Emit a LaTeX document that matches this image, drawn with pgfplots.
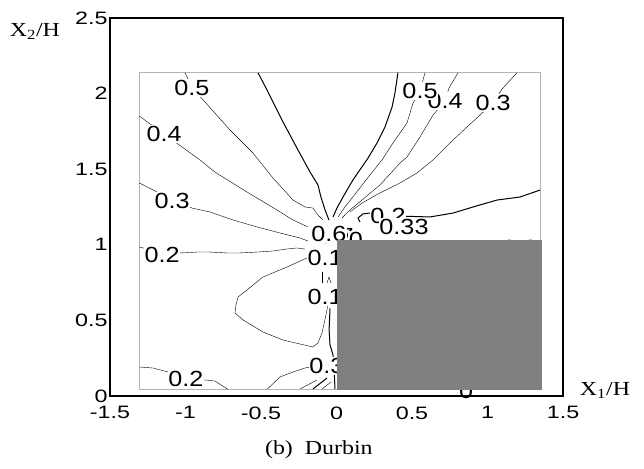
\documentclass[border=0pt]{standalone}
\usepackage{fontspec}
\setmainfont{Liberation Serif}[FakeStretch=1.2]
\newfontfamily\tickfont[FakeStretch=1.3]{Liberation Sans}
\newfontfamily\labfont[FakeStretch=1.15]{Liberation Sans}
\usepackage{pgfplots}
\pgfplotsset{compat=1.18}
\definecolor{blockgray}{HTML}{808080}
\definecolor{framegray}{HTML}{B4B4B4}
\tikzset{clab/.style={font=\labfont\fontsize{22}{22}\selectfont, fill=white, inner sep=0.8bp, text=black}}
\begin{document}
\begin{tikzpicture}[x=1bp,y=1bp]
\path[use as bounding box] (0,0) rectangle (644,469);
\begin{axis}[at={(110bp,73bp)}, anchor=south west, scale only axis,
  width=453bp, height=378bp,
  xmin=-1.5, xmax=1.5, ymin=0, ymax=2.5,
  axis line style={line width=1.2pt},
  xtick={-1.5,-1,-0.5,0,0.5,1,1.5}, xticklabels={-1.5,-1,-0.5,0,0.5,1,1.5},
  ytick={0,0.5,1,1.5,2,2.5}, yticklabels={0,0.5,1,1.5,2,2.5},
  major tick length=0pt,
  ticklabel style={font=\tickfont\fontsize{18}{18}\selectfont},
  xticklabel style={yshift=-7bp},
  yticklabel style={xshift=1bp},
  axis on top, clip=false,
  cycle list={{black,solid,mark=none,line width=1bp}},
]
% frame
\addplot[framegray, line width=1bp] coordinates {(-1.306,0.044)(1.35,0.044)(1.35,2.138)(-1.306,2.138)(-1.306,0.044)};
% left contours
\addplot coordinates {(-1.003,2.138)(-0.957,2.04)(-0.871,1.944)(-0.705,1.759)(-0.553,1.607)(-0.421,1.442)(-0.288,1.296)(-0.209,1.250)(-0.156,1.243)(-0.123,1.197)(-0.089,1.164)};
\addplot coordinates {(-1.306,1.852)(-1.235,1.799)(-1.142,1.733)(-1.023,1.647)(-0.904,1.561)(-0.805,1.481)(-0.593,1.349)(-0.394,1.230)(-0.288,1.164)(-0.189,1.118)};
\addplot coordinates {(-0.520,2.138)(-0.460,2.024)(-0.361,1.825)(-0.262,1.640)(-0.175,1.481)(-0.123,1.396)(-0.103,1.316)(-0.076,1.230)(-0.050,1.164)};
\addplot coordinates {(-1.306,1.409)(-1.202,1.356)(-1.089,1.290)(-0.957,1.243)(-0.838,1.217)(-0.685,1.164)(-0.526,1.118)(-0.374,1.078)(-0.242,1.045)(-0.189,1.025)};
\addplot coordinates {(-1.306,0.985)(-1.155,0.95)(-1.023,0.946)(-0.924,0.952)(-0.838,0.952)(-0.725,0.946)(-0.639,0.946)(-0.526,0.952)(-0.421,0.959)(-0.328,0.972)(-0.262,0.979)(-0.209,0.972)};
\addplot coordinates {(-0.195,0.913)(-0.328,0.853)(-0.487,0.787)(-0.593,0.701)(-0.652,0.655)(-0.666,0.602)(-0.672,0.549)(-0.619,0.503)(-0.487,0.423)(-0.354,0.370)(-0.156,0.324)(-0.123,0.351)(-0.096,0.417)(-0.063,0.569)(-0.056,0.62)};
\addplot coordinates {(-0.043,0.58)(-0.049,0.437)(-0.043,0.338)(-0.023,0.271)(-0.017,0.205)(-0.010,0.046)};
\addplot coordinates {(-0.460,0.044)(-0.374,0.126)(-0.288,0.159)(-0.209,0.185)(-0.175,0.192)(-0.063,0.198)};
\addplot coordinates {(-1.306,0.192)(-1.215,0.185)(-1.116,0.159)(-0.997,0.112)(-0.871,0.106)(-0.805,0.099)(-0.719,0.044)};
\addplot coordinates {(-0.242,0.046)(-0.129,0.106)};
\addplot coordinates {(-0.156,0.046)(-0.063,0.119)};
\addplot coordinates {(-0.096,0.046)(-0.036,0.093)};
\addplot coordinates {(-0.096,0.820)(-0.096,0.747)};
\addplot coordinates {(-0.063,0.747)(-0.050,0.787)(-0.036,0.747)};
% right contours
\addplot coordinates {(0.407,2.138)(0.387,2.004)(0.368,1.911)(0.321,1.779)(0.268,1.673)(0.209,1.574)(0.109,1.429)(0.043,1.316)(0.003,1.243)(-0.023,1.184)};
\addplot coordinates {(0.586,2.138)(0.553,2.017)(0.507,1.938)(0.467,1.806)(0.374,1.673)(0.301,1.561)(0.222,1.462)(0.129,1.343)(0.056,1.250)(0.010,1.184)};
\addplot coordinates {(0.805,2.138)(0.745,2.037)(0.719,1.951)(0.639,1.858)(0.553,1.713)(0.467,1.581)(0.421,1.541)(0.288,1.396)(0.169,1.296)(0.089,1.230)(0.036,1.177)};
\addplot coordinates {(1.195,2.138)(1.096,2.030)(1.037,1.938)(0.950,1.858)(0.864,1.779)(0.751,1.673)(0.639,1.561)(0.533,1.475)(0.421,1.409)(0.288,1.343)(0.169,1.276)(0.089,1.217)};
\addplot coordinates {(0.156,1.151)(0.142,1.177)(0.175,1.204)(0.222,1.210)(0.288,1.204)(0.421,1.190)(0.619,1.184)(0.772,1.210)(0.904,1.250)(1.063,1.296)(1.215,1.316)(1.348,1.362)};
% labels (drawn with plots so that the block covers some)
\addplot[draw=none] coordinates {(-0.957,2.037)} node[clab] {0.5};
\addplot[draw=none] coordinates {(-1.142,1.733)} node[clab] {0.4};
\addplot[draw=none] coordinates {(-1.089,1.290)} node[clab] {0.3};
\addplot[draw=none] coordinates {(-1.155,0.933)} node[clab] {0.2};
\addplot[draw=none] coordinates {(-0.997,0.112)} node[clab] {0.2};
\addplot[draw=none] coordinates {(0.719,1.951)} node[clab] {0.4};
\addplot[draw=none] coordinates {(0.553,2.017)} node[clab] {0.5};
\addplot[draw=none] coordinates {(1.037,1.938)} node[clab] {0.3};
\addplot[draw=none] coordinates {(0.341,1.19)} node[clab] {0.2};
\addplot[draw=none] coordinates {(0.447,1.118)} node[clab] {0.33};
\addplot[draw=none] coordinates {(-0.003,1.058)} node[clab] {0.7};
\addplot[draw=none] coordinates {(0.129,1.032)} node[clab] {0};
\addplot[draw=none] coordinates {(-0.050,1.071)} node[clab] {0.6};
\addplot[draw=none] coordinates {(-0.076,0.913)} node[clab] {0.1};
\addplot[draw=none] coordinates {(-0.076,0.655)} node[clab] {0.1};
\addplot[draw=none] coordinates {(-0.063,0.198)} node[clab] {0.3};
\addplot[draw=none] coordinates {(1.215,0.979)} node[clab] {0.2};
\addplot[draw=none] coordinates {(0.858,0.033)} node[clab, fill=none, inner sep=0pt] {0};
% block
\addplot[fill=blockgray, draw=none] coordinates {(0,0.038)(1.363,0.038)(1.363,1.03)(0,1.03)} -- cycle;
% axis labels
\node[font=\fontsize{20}{20}\selectfont] at (axis description cs:-0.1656,0.965) {X\textsubscript{2}/H};
\node[font=\fontsize{20}{20}\selectfont] at (axis description cs:1.0927,0.015) {X\textsubscript{1}/H};
\node[font=\fontsize{20}{20}\selectfont] at (axis description cs:0.461,-0.143) {(b)\ \ Durbin};
\end{axis}
\end{tikzpicture}
\end{document}
